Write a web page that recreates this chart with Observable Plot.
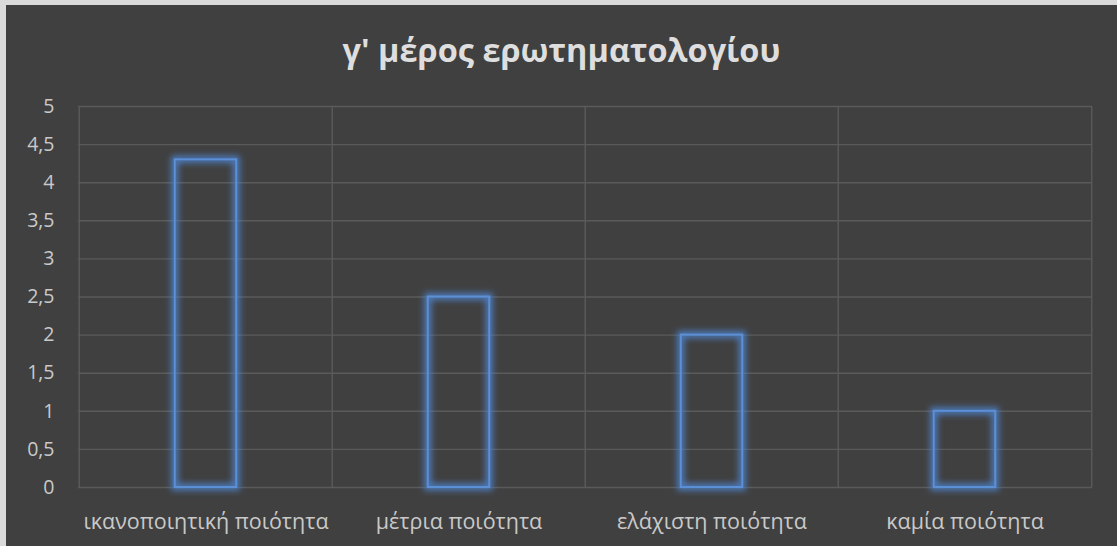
<!DOCTYPE html>
<html>
<head>
<meta charset="utf-8">
<script src="https://cdn.jsdelivr.net/npm/d3@7"></script>
<script src="https://cdn.jsdelivr.net/npm/@observablehq/plot@0.6"></script>
<style>
  html, body { margin: 0; padding: 0; background: #dadada; width: 1117px; height: 546px; overflow: hidden; }
  #chart { position: absolute; left: 6px; top: 5px; width: 1111px; height: 541px; background: #404040; font-family: "Open Sans", sans-serif; }
  #title { height: 80px; line-height: 89px; text-align: center; color: #dedede; font-weight: bold; font-size: 32.5px; white-space: nowrap; overflow: visible; }
  #plot svg { display: block; }
  #plot svg text { fill: #c9c9c9; }
</style>
</head>
<body>
<div id="chart">
  <div id="title">γ' μέρος ερωτηματολογίου</div>
  <div id="plot"></div>
</div>
<script>
const categories = ["ικανοποιητική ποιότητα", "μέτρια ποιότητα", "ελάχιστη ποιότητα", "καμία ποιότητα"];
const values = [4.3, 2.5, 2.0, 1.0];
const yTicks = [0, 0.5, 1, 1.5, 2, 2.5, 3, 3.5, 4, 4.5, 5];

const data = categories.map((c, i) => ({category: c, value: values[i]}));

const W = 1111, H = 461, ML = 72, MR = 25, MT = 21, MB = 59;
const bw = (W - ML - MR) / categories.length;
const barW = 62;
const inset = (bw - barW) / 2;
const gridColor = "#5a5a5a";
const barColor = "#5b8fd6";
const glowColor = "#4f86d4";

const plot = Plot.plot({
  width: W, height: H,
  marginLeft: ML, marginRight: MR, marginTop: MT, marginBottom: MB,
  style: {background: "transparent", color: "#c9c9c9", fontFamily: "Open Sans, sans-serif", fontSize: "20px"},
  x: {domain: categories, padding: 0, tickSize: 0, tickPadding: 26, label: null},
  y: {domain: [0, 5], ticks: yTicks, tickSize: 0, tickPadding: 24, label: null,
      tickFormat: d => String(d).replace(".", ",")},
  marks: [
    Plot.ruleY(yTicks, {stroke: gridColor, strokeWidth: 1.4}),
    Plot.ruleX(categories, {stroke: gridColor, strokeWidth: 1.4, dx: -bw / 2}),
    Plot.ruleX(categories.slice(-1), {stroke: gridColor, strokeWidth: 1.4, dx: bw / 2}),
    Plot.barY(data, {x: "category", y: "value", fill: "none", stroke: glowColor, strokeWidth: 7, strokeOpacity: 0.85,
      insetLeft: inset, insetRight: inset}),
    Plot.barY(data, {x: "category", y: "value", fill: "none", stroke: barColor, strokeWidth: 2,
      insetLeft: inset, insetRight: inset})
  ]
});

// soft glow around the bar outlines
const ns = "http://www.w3.org/2000/svg";
const defs = document.createElementNS(ns, "defs");
defs.innerHTML = '<filter id="glowf" x="-50%" y="-50%" width="200%" height="200%"><feGaussianBlur stdDeviation="3"/></filter>';
plot.insertBefore(defs, plot.firstChild);
plot.querySelectorAll('[stroke="' + glowColor + '"]').forEach(el => el.setAttribute("filter", "url(#glowf)"));

// axis label sizes
plot.querySelectorAll('[aria-label^="x-axis"] text').forEach(t => t.style.fontSize = "21.5px");
plot.querySelectorAll('[aria-label^="y-axis"] text').forEach(t => t.style.fontSize = "19.5px");

document.getElementById("plot").appendChild(plot);
</script>
</body>
</html>
